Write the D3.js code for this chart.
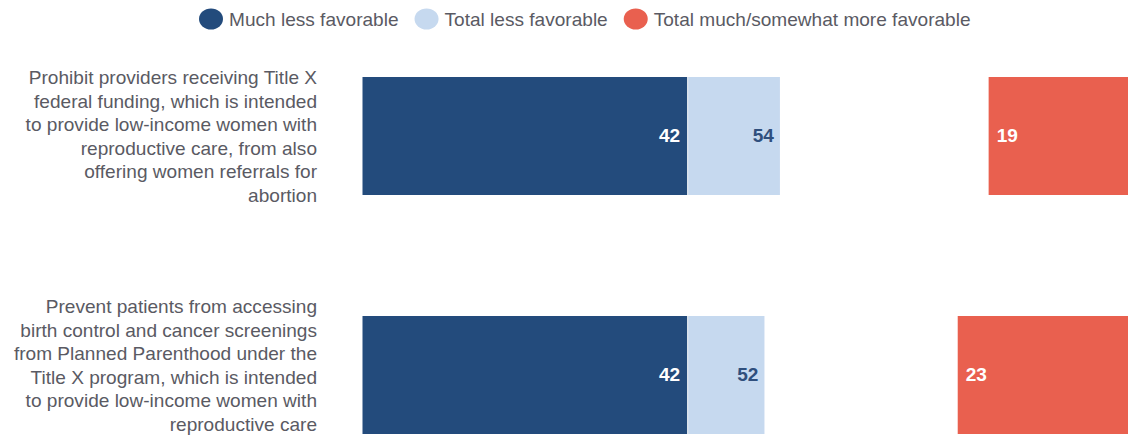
<!DOCTYPE html>
<html>
<head>
<meta charset="utf-8">
<script src="https://cdn.jsdelivr.net/npm/d3@7"></script>
<style>
  html, body { margin: 0; padding: 0; background: #fff; overflow: hidden; }
  svg { display: block; font-family: "Liberation Sans", Arial, sans-serif; }
</style>
</head>
<body>
<svg id="chart" width="1128" height="436"></svg>
<script>
// ---- data ----
const categories = [
  ["Prohibit providers receiving Title X",
   "federal funding, which is intended",
   "to provide low-income women with",
   "reproductive care, from also",
   "offering women referrals for",
   "abortion"],
  ["Prevent patients from accessing",
   "birth control and cancer screenings",
   "from Planned Parenthood under the",
   "Title X program, which is intended",
   "to provide low-income women with",
   "reproductive care"]
];
const muchLess = [42, 42];
const totalLess = [54, 52];
const totalMore = [19, 23];
const seriesNames = ["Much less favorable", "Total less favorable", "Total much/somewhat more favorable"];

// ---- layout / style ----
const W = 1128, H = 436;
const colors = ["#234b7c", "#c6d9ef", "#e9604f"];
const textColor = "#5a5a63";
const sx = 1.06;           // horizontal text stretch seen in the reference
const labelShift = [7, -3];
const lineH = 23.5;

const svg = d3.select("#chart");
const rows = categories.map((c, i) => ({
  id: i, lines: c, much: muchLess[i], less: totalLess[i], more: totalMore[i]
}));

const x = d3.scaleLinear().domain([0, 100]).range([362.5, 1135.5]);
const y = d3.scaleBand().domain(rows.map(d => d.id)).range([77, 434]).paddingInner(0.5063).paddingOuter(0);

const g = svg.append("g");

// light (total less) bars
g.selectAll("rect.less").data(rows).join("rect")
  .attr("class", "less")
  .attr("x", d => x(d.much) + 1)
  .attr("width", d => x(d.less) - x(d.much) - 1)
  .attr("y", d => y(d.id))
  .attr("height", y.bandwidth())
  .attr("fill", colors[1]);

// dark (much less) bars
g.selectAll("rect.much").data(rows).join("rect")
  .attr("class", "much")
  .attr("x", x(0))
  .attr("width", d => x(d.much) - x(0))
  .attr("y", d => y(d.id))
  .attr("height", y.bandwidth())
  .attr("fill", colors[0]);

// red (more favorable) bars, anchored at the right end
g.selectAll("rect.more").data(rows).join("rect")
  .attr("class", "more")
  .attr("x", d => x(100 - d.more))
  .attr("width", d => x(100) - x(100 - d.more))
  .attr("y", d => y(d.id))
  .attr("height", y.bandwidth())
  .attr("fill", colors[2]);

// value labels
function valLabel(cls, getX, anchor, fill, getV) {
  g.selectAll("text." + cls).data(rows).join("text")
    .attr("class", cls)
    .attr("transform", d => `translate(${getX(d)},${y(d.id) + y.bandwidth() / 2 + 6}) scale(${sx},1)`)
    .attr("text-anchor", anchor)
    .attr("font-size", 18)
    .attr("font-weight", "bold")
    .attr("fill", fill)
    .text(getV);
}
valLabel("vmuch", d => x(d.much) - 7, "end", "#ffffff", d => d.much);
valLabel("vless", d => x(d.less) - 6, "end", "#2f4f7d", d => d.less);
valLabel("vmore", d => x(100 - d.more) + 8, "start", "#ffffff", d => d.more);

// category labels
rows.forEach((d, i) => {
  const cy = y(d.id) + y.bandwidth() / 2;
  const first = cy - (d.lines.length - 1) * lineH / 2 + labelShift[i];
  d.lines.forEach((ln, k) => {
    svg.append("text")
      .attr("transform", `translate(317,${first + k * lineH}) scale(${sx},1)`)
      .attr("text-anchor", "end")
      .attr("font-size", 18)
      .attr("fill", textColor)
      .text(ln);
  });
});

// legend
const leg = svg.append("g");
let lx = 199;
seriesNames.forEach((name, i) => {
  leg.append("ellipse")
    .attr("cx", lx + 12).attr("cy", 19).attr("rx", 12).attr("ry", 10.5)
    .attr("fill", colors[i]);
  const t = leg.append("text")
    .attr("transform", `translate(${lx + 30},26) scale(${sx},1)`)
    .attr("font-size", 18)
    .attr("fill", textColor)
    .text(name);
  const w = t.node().getComputedTextLength() * sx;
  lx = lx + 30 + w + 16;
});
</script>
</body>
</html>
